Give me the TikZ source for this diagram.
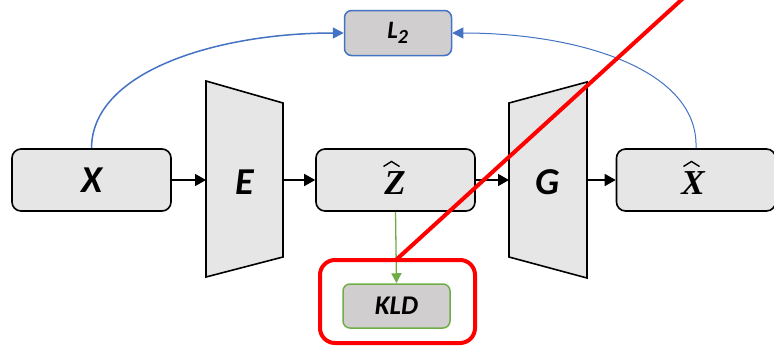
\documentclass[tikz,border=0pt]{standalone}
\usepackage{fontspec}
\setmainfont{Carlito}
\newfontfamily\serifbi{Liberation Serif}
\usetikzlibrary{arrows.meta}
\definecolor{boxfill}{HTML}{E7E6E6}
\definecolor{darkfill}{HTML}{D0CECE}
\definecolor{blueline}{HTML}{4472C4}
\definecolor{greenline}{HTML}{70AD47}
\definecolor{redline}{HTML}{FF0000}
\begin{document}
\begin{tikzpicture}[x=1pt,y=-1pt,
  box/.style={draw=black,line width=1.6pt,fill=boxfill,rounded corners=9pt,
    minimum width=159pt,minimum height=62pt,inner sep=0pt,
    font=\fontsize{38}{40}\selectfont\bfseries\itshape},
  smallbox/.style={line width=1.5pt,fill=darkfill,rounded corners=7pt,
    minimum width=107pt,minimum height=45pt,inner sep=0pt},
  netshape/.style={draw=black,line width=1.6pt,fill=boxfill,line join=miter},
  lbl/.style={font=\fontsize{38}{40}\selectfont\bfseries\itshape,inner sep=0pt},
  serlbl/.style={font=\fontsize{35}{37}\selectfont\serifbi\bfseries\itshape,inner sep=0pt,anchor=base},
  hat/.style={line width=1.4pt,line join=miter,line cap=butt},
  blk/.style={line width=1.5pt,-{Triangle[length=11pt,width=12pt]}},
  blu/.style={draw=blueline,line width=1.5pt,-{Triangle[length=11pt,width=11pt]}},
  grn/.style={draw=greenline,line width=1.3pt,-{Triangle[length=10pt,width=10pt]}}]
\useasboundingbox (0,0) rectangle (774,346);
\clip (0,0) rectangle (774,346);
\fill[white] (0,0) rectangle (774,346);

% nodes
\node[box] (X) at (91.5,180) {X};
\node[box] (Z) at (395.5,180) {};
\node[box] (Xh) at (696,180) {};
\node[serlbl] (Zt) at (395,194) {Z};
\node[serlbl] (Xt) at (693,194) {X};
\draw[hat] (383.5,166.5) -- (391.5,161.5) -- (399.5,166.5);
\draw[hat] (683.5,166.5) -- (691.5,161.5) -- (699.5,166.5);

% encoder and generator
\draw[netshape] (206,81) -- (283,103) -- (283,257) -- (206,277) -- cycle;
\draw[netshape] (509,103) -- (587,82) -- (587,278) -- (509,257) -- cycle;
\node[lbl] (E) at (244.5,182) {E};
\node[lbl] (G) at (548,182) {G};
\coordinate (Ein) at (206,180);
\coordinate (Eout) at (283,180);
\coordinate (Gin) at (509,180);
\coordinate (Gout) at (587,180);

\node[smallbox,draw=blueline] (L) at (398,33)
  {\fontsize{25}{27}\selectfont\bfseries\itshape L\textsubscript{\fontsize{20}{22}\selectfont 2}};
\node[smallbox,draw=greenline,minimum width=107pt,minimum height=44pt] (K) at (396.5,306)
  {\fontsize{27}{29}\selectfont\bfseries\itshape KLD};

% connectors
\draw[blk] (X.east) -- (Ein);
\draw[blk] (Eout) -- (Z.west);
\draw[blk] (Z.east) -- (Gin);
\draw[blk] (Gout) -- (Xh.west);
\draw[blu] (X.north) .. controls (92,70) and (220,33) .. (L.west);
\draw[blu,line width=1pt] (Xh.north) .. controls (699,70) and (580,33) .. (L.east);
\draw[grn] (Z.south) -- (K.north);

% red annotation
\draw[draw=redline,line width=4pt,rounded corners=15pt] (320,260) rectangle (475,343);
\coordinate (rtop) at (397,259);
\coordinate (rend) at (690,-8);
\draw[draw=redline,line width=4pt] (rtop) -- (rend);
\end{tikzpicture}
\end{document}
